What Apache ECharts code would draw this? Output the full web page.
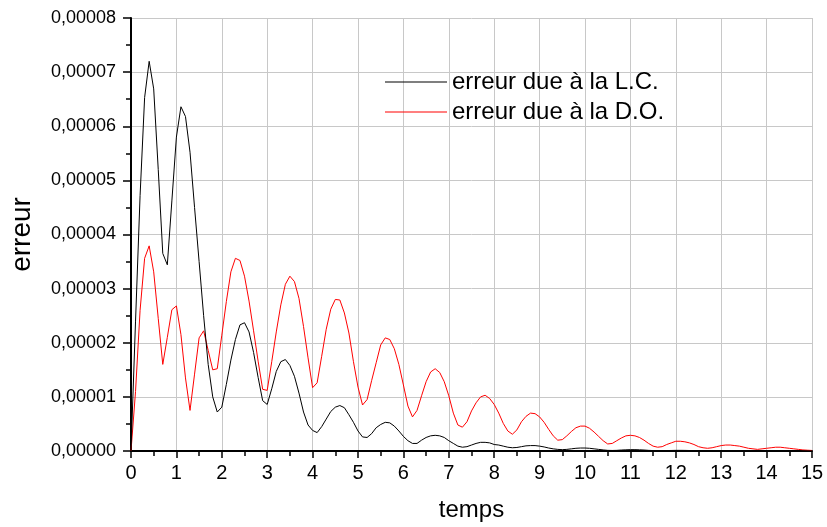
<!DOCTYPE html>
<html>
<head>
<meta charset="utf-8">
<script src="https://cdn.jsdelivr.net/npm/echarts@6/dist/echarts.min.js"></script>
<style>
  html, body { margin: 0; padding: 0; background: #fff; }
  #chart { width: 827px; height: 527px; }
</style>
</head>
<body>
<div id="chart"></div>
<script>
// temps (0 .. 15, pas de 0.1)
const temps = [
  0, 0.1, 0.2, 0.3, 0.4, 0.5, 0.6, 0.7, 0.8, 0.9,
  1, 1.1, 1.2, 1.3, 1.4, 1.5, 1.6, 1.7, 1.8, 1.9,
  2, 2.1, 2.2, 2.3, 2.4, 2.5, 2.6, 2.7, 2.8, 2.9,
  3, 3.1, 3.2, 3.3, 3.4, 3.5, 3.6, 3.7, 3.8, 3.9,
  4, 4.1, 4.2, 4.3, 4.4, 4.5, 4.6, 4.7, 4.8, 4.9,
  5, 5.1, 5.2, 5.3, 5.4, 5.5, 5.6, 5.7, 5.8, 5.9,
  6, 6.1, 6.2, 6.3, 6.4, 6.5, 6.6, 6.7, 6.8, 6.9,
  7, 7.1, 7.2, 7.3, 7.4, 7.5, 7.6, 7.7, 7.8, 7.9,
  8, 8.1, 8.2, 8.3, 8.4, 8.5, 8.6, 8.7, 8.8, 8.9,
  9, 9.1, 9.2, 9.3, 9.4, 9.5, 9.6, 9.7, 9.8, 9.9,
  10, 10.1, 10.2, 10.3, 10.4, 10.5, 10.6, 10.7, 10.8, 10.9,
  11, 11.1, 11.2, 11.3, 11.4, 11.5, 11.6, 11.7, 11.8, 11.9,
  12, 12.1, 12.2, 12.3, 12.4, 12.5, 12.6, 12.7, 12.8, 12.9,
  13, 13.1, 13.2, 13.3, 13.4, 13.5, 13.6, 13.7, 13.8, 13.9,
  14, 14.1, 14.2, 14.3, 14.4, 14.5, 14.6, 14.7, 14.8, 14.9,
  15
]

// erreur due à la L.C. (en 1e-6)
const erreurLC = [
  0, 24, 47.2, 65.3, 72.0, 66.9, 52, 36.5, 34.4, 46.2,
  58.0, 63.6, 61.8, 55.2, 45, 35, 25, 16, 10, 7.2,
  8.1, 12.3, 16.8, 20.6, 23.3, 23.7, 22.0, 18.2, 13.6, 9.3,
  8.6, 11.5, 14.7, 16.5, 16.9, 15.8, 13.8, 10.7, 7.2, 4.8,
  3.8, 3.4, 4.5, 5.9, 7.3, 8.1, 8.4, 8.0, 6.7, 5.3,
  3.7, 2.6, 2.5, 3.2, 4.3, 4.9, 5.3, 5.2, 4.6, 3.7,
  2.7, 1.9, 1.4, 1.4, 2.0, 2.5, 2.8, 2.9, 2.8, 2.5,
  1.9, 1.4, 0.9, 0.7, 0.8, 1.1, 1.4, 1.6, 1.6, 1.5,
  1.2, 1.1, 0.9, 0.7, 0.6, 0.65, 0.8, 0.95, 1.0, 1.0,
  0.9, 0.75, 0.55, 0.4, 0.3, 0.25, 0.3, 0.4, 0.5, 0.55,
  0.55, 0.5, 0.4, 0.3, 0.2, 0.12, 0.1, 0.12, 0.18, 0.22,
  0.25, 0.25, 0.22, 0.18, 0.12, 0.08, 0.06, 0.06, 0.08, 0.1,
  0.12, 0.12, 0.11, 0.09, 0.07, 0.05, 0.04, 0.04, 0.05, 0.06,
  0.06, 0.06, 0.05, 0.04, 0.03, 0.03, 0.03, 0.03, 0.04, 0.04,
  0.04, 0.04, 0.03, 0.03, 0.02, 0.02, 0.02, 0.02, 0.02, 0.02,
  0.02
]

// erreur due à la D.O. (en 1e-6)
const erreurDO = [
  0, 11, 26, 35.6, 37.9, 33.1, 24.5, 16.0, 21.0, 26.1,
  26.8, 21.5, 13.5, 7.5, 14.2, 20.9, 22.2, 18.6, 15.0, 15.2,
  21.4, 27.6, 33.1, 35.6, 35.2, 32.3, 27.7, 22.2, 16.6, 11.4,
  11.2, 16.5, 22.0, 27.0, 30.8, 32.3, 31.3, 28.2, 23.0, 17.2,
  11.7, 12.6, 17.5, 22.5, 26.2, 28.0, 27.9, 25.5, 21.8, 16.5,
  11.8, 8.5, 9.5, 13, 16.3, 19.6, 20.9, 20.6, 18.9, 16.0,
  12.2, 8.3, 6.3, 7.5, 10.2, 12.8, 14.6, 15.2, 14.5, 12.8,
  10.2, 7.0, 4.8, 4.4, 5.4, 7.4, 8.9, 10.0, 10.3, 9.7,
  8.6, 7.0, 5.1, 3.7, 3.1, 3.9, 5.4, 6.4, 7.0, 6.9,
  6.3, 5.3, 4.0, 2.8, 2.0, 2.1, 2.8, 3.6, 4.3, 4.6,
  4.6, 4.2, 3.5, 2.7, 1.9, 1.3, 1.4, 1.9, 2.4, 2.8,
  2.9, 2.8, 2.5, 2.0, 1.4, 0.9, 0.7, 0.8, 1.2, 1.5,
  1.8, 1.8, 1.7, 1.5, 1.2, 0.8, 0.6, 0.5, 0.6, 0.8,
  1.0, 1.1, 1.1, 1.0, 0.9, 0.7, 0.5, 0.4, 0.3, 0.4,
  0.5, 0.6, 0.7, 0.7, 0.6, 0.5, 0.4, 0.3, 0.2, 0.15,
  0.1
]

const font = '"Liberation Sans", Arial, sans-serif'
const toPairs = vals => temps.map((t, i) => [t, vals[i] * 1e-6])

const chart = echarts.init(document.getElementById('chart'))
chart.setOption({
  animation: false,
  textStyle: { fontFamily: font },
  grid: {
    left: 130,
    right: 15,
    top: 18,
    bottom: 74
  },
  legend: {
    orient: 'vertical',
    left: 380,
    top: 65,
    icon: 'rect',
    itemWidth: 62,
    itemHeight: 1,
    itemGap: 6,
    textStyle: {
      color: '#000',
      fontSize: 24,
      lineHeight: 24,
      fontFamily: font
    },
    data: ['erreur due à la L.C.', 'erreur due à la D.O.']
  },
  xAxis: {
    type: 'value',
    min: 0,
    max: 15,
    interval: 1,
    name: 'temps',
    nameLocation: 'middle',
    nameGap: 47,
    nameTextStyle: { color: '#000', fontSize: 24, fontFamily: font },
    axisLine: { show: true, onZero: false, lineStyle: { color: '#000', width: 2 } },
    axisTick: { show: true, length: 7, lineStyle: { color: '#000', width: 1.5 } },
    minorTick: { show: true, splitNumber: 2, length: 5, lineStyle: { color: '#000', width: 1.5 } },
    axisLabel: { color: '#000', fontSize: 20, margin: 12, fontFamily: font },
    splitLine: { show: true, lineStyle: { color: '#c8c8c8', width: 1 } }
  },
  yAxis: {
    type: 'value',
    min: 0,
    max: 0.00008,
    interval: 0.00001,
    name: 'erreur',
    nameLocation: 'middle',
    nameGap: 95,
    nameTextStyle: { color: '#000', fontSize: 28, fontFamily: font },
    axisLine: { show: true, lineStyle: { color: '#000', width: 2 } },
    axisTick: { show: true, length: 8, lineStyle: { color: '#000', width: 1.5 } },
    minorTick: { show: true, splitNumber: 2, length: 5, lineStyle: { color: '#000', width: 1.5 } },
    axisLabel: {
      color: '#000',
      fontSize: 18,
      margin: 15,
      fontFamily: font,
      formatter: v => v.toFixed(5).replace('.', ',')
    },
    splitLine: { show: true, lineStyle: { color: '#c8c8c8', width: 1 } }
  },
  series: [
    {
      name: 'erreur due à la L.C.',
      type: 'line',
      symbol: 'none',
      data: toPairs(erreurLC),
      lineStyle: { color: '#000', width: 1 },
      itemStyle: { color: '#000' },
      z: 3
    },
    {
      name: 'erreur due à la D.O.',
      type: 'line',
      symbol: 'none',
      data: toPairs(erreurDO),
      lineStyle: { color: '#ff0000', width: 1 },
      itemStyle: { color: '#ff0000' },
      z: 2
    }
  ]
})
</script>
</body>
</html>
